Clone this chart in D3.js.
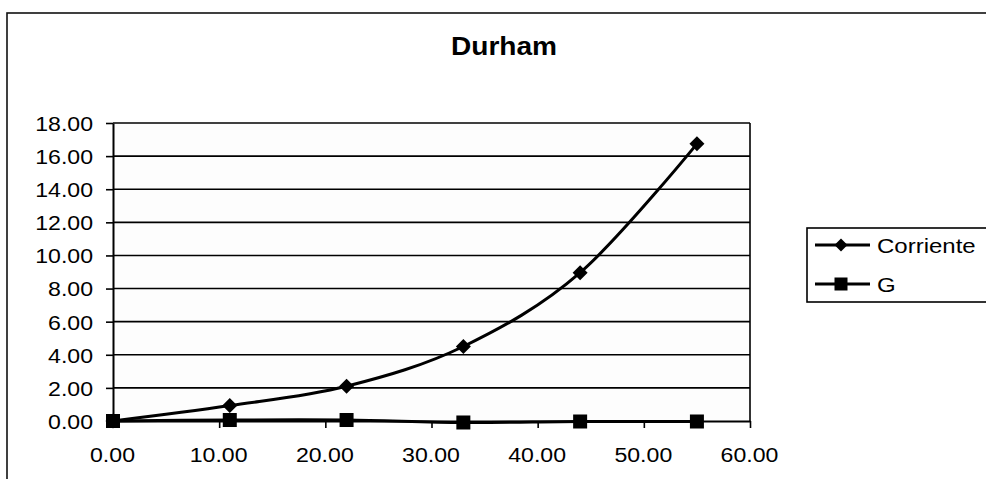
<!DOCTYPE html>
<html>
<head>
<meta charset="utf-8">
<script src="https://cdn.jsdelivr.net/npm/d3@7/dist/d3.min.js"></script>
<style>
  html, body { margin: 0; padding: 0; background: #fff; }
  svg { display: block; font-family: "Liberation Sans", Arial, sans-serif; }
</style>
</head>
<body>
<svg id="chart" width="986" height="479"></svg>
<script>
// ---- data ----
const title = "Durham";
const xValues = [0, 11, 22, 33, 44, 55];
const corriente = [0, 0.93, 2.1, 4.5, 8.96, 16.74];
const gValues = [0, 0.06, 0.06, -0.09, -0.03, -0.03];
const seriesNames = ["Corriente", "G"];
const xTicks = [0, 10, 20, 30, 40, 50, 60];
const yTicks = [0, 2, 4, 6, 8, 10, 12, 14, 16, 18];

// ---- layout ----
const svg = d3.select("#chart");
const plot = { left: 113, right: 750, top: 123, bottom: 421 };
const x = d3.scaleLinear().domain([0, 60]).range([plot.left, plot.right]);
const y = d3.scaleLinear().domain([0, 18]).range([plot.bottom, plot.top]);

// outer chart frame (partially visible)
svg.append("rect")
  .attr("x", 7).attr("y", 13).attr("width", 1100).attr("height", 600)
  .attr("fill", "#fff").attr("stroke", "#111").attr("stroke-width", 1.6);

// title
svg.append("text")
  .attr("transform", "translate(504,55) scale(1.08,1)")
  .attr("text-anchor", "middle")
  .attr("font-size", 26).attr("font-weight", "bold").attr("fill", "#000")
  .text(title);

// plot area background
svg.append("rect")
  .attr("x", plot.left).attr("y", plot.top)
  .attr("width", plot.right - plot.left).attr("height", plot.bottom - plot.top)
  .attr("fill", "#fdfdfd");

// gridlines
svg.append("g").selectAll("line").data(yTicks.filter(d => d > 0)).join("line")
  .attr("x1", plot.left).attr("x2", plot.right)
  .attr("y1", d => y(d)).attr("y2", d => y(d))
  .attr("stroke", "#000").attr("stroke-width", 1.6);

// right border of plot
svg.append("line")
  .attr("x1", plot.right).attr("x2", plot.right)
  .attr("y1", plot.top).attr("y2", plot.bottom)
  .attr("stroke", "#000").attr("stroke-width", 1.6);

// y axis
const yAxis = svg.append("g")
  .attr("transform", `translate(${plot.left},0)`)
  .call(d3.axisLeft(y).tickValues(yTicks).tickFormat(d3.format(".2f")).tickSize(7).tickSizeOuter(0));
yAxis.select(".domain").attr("stroke", "#000").attr("stroke-width", 2);
yAxis.selectAll(".tick line").attr("stroke", "#000").attr("stroke-width", 1.6);
yAxis.selectAll(".tick text")
  .attr("x", 0).attr("dy", "0.35em")
  .attr("transform", "translate(-20,0) scale(1.1,1)")
  .attr("text-anchor", "end")
  .attr("font-size", 21).attr("font-family", "'Liberation Sans', Arial, sans-serif").attr("fill", "#000");

// x axis
const xAxis = svg.append("g")
  .attr("transform", `translate(0,${plot.bottom})`)
  .call(d3.axisBottom(x).tickValues(xTicks).tickFormat(d3.format(".2f")).tickSize(7).tickSizeOuter(0));
xAxis.select(".domain").attr("stroke", "#000").attr("stroke-width", 2);
xAxis.selectAll(".tick line").attr("stroke", "#000").attr("stroke-width", 1.6);
xAxis.selectAll(".tick text")
  .attr("y", 0).attr("dy", 0)
  .attr("transform", "translate(-1,41) scale(1.1,1)")
  .attr("text-anchor", "middle")
  .attr("font-size", 21).attr("font-family", "'Liberation Sans', Arial, sans-serif").attr("fill", "#000");

// series
const line = d3.line().x(d => x(d[0])).y(d => y(d[1])).curve(d3.curveCardinal.tension(0));
const corrData = xValues.map((v, i) => [v, corriente[i]]);
const gData = xValues.map((v, i) => [v, gValues[i]]);

svg.append("path").datum(gData).attr("d", line)
  .attr("fill", "none").attr("stroke", "#000").attr("stroke-width", 3);
svg.append("path").datum(corrData).attr("d", line)
  .attr("fill", "none").attr("stroke", "#000").attr("stroke-width", 3);

const diamond = (cx, cy, r) => `M${cx},${cy - r}L${cx + r},${cy}L${cx},${cy + r}L${cx - r},${cy}Z`;

svg.append("g").selectAll("rect").data(gData).join("rect")
  .attr("x", d => x(d[0]) - 7).attr("y", d => y(d[1]) - 7)
  .attr("width", 14).attr("height", 14).attr("fill", "#000");

svg.append("g").selectAll("path").data(corrData).join("path")
  .attr("d", d => diamond(x(d[0]), y(d[1]), 7.5)).attr("fill", "#000");

// legend
const lg = svg.append("g");
lg.append("rect")
  .attr("x", 807).attr("y", 228).attr("width", 220).attr("height", 74)
  .attr("fill", "#fff").attr("stroke", "#000").attr("stroke-width", 1.6);
const legY = [245, 284];
seriesNames.forEach((name, i) => {
  const yy = legY[i];
  lg.append("line").attr("x1", 815).attr("x2", 870).attr("y1", yy).attr("y2", yy)
    .attr("stroke", "#000").attr("stroke-width", 3);
  if (i === 0) {
    lg.append("path").attr("d", diamond(841, yy, 6.5)).attr("fill", "#000");
  } else {
    lg.append("rect").attr("x", 841 - 6.5).attr("y", yy - 6.5).attr("width", 13).attr("height", 13).attr("fill", "#000");
  }
  lg.append("text")
    .attr("transform", `translate(877,${yy + 8}) scale(1.2,1)`)
    .attr("font-size", 20).attr("fill", "#000")
    .text(name);
});
</script>
</body>
</html>
